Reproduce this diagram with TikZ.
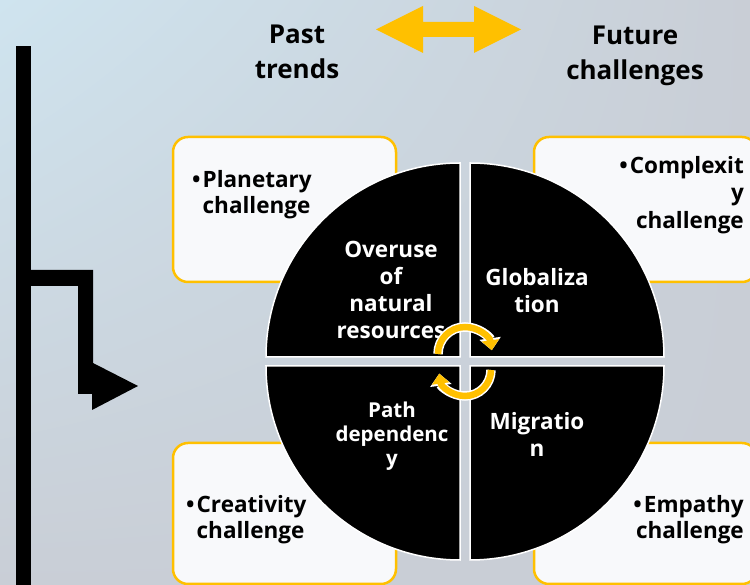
\documentclass[tikz,border=0pt]{standalone}
\usepackage{fontspec}
\setmainfont{Open Sans}
\usepackage{tikz}
\usetikzlibrary{arrows.meta, shadings}

\definecolor{gold}{HTML}{FFC000}
\definecolor{boxfill}{HTML}{F8F9FB}
\definecolor{bgblue}{HTML}{CFE4EF}
\definecolor{bggrey}{HTML}{C9CED6}

\tikzset{
  box/.style={draw=gold, line width=2.5pt, fill=boxfill, rounded corners=15pt},
  quad/.style={fill=black, draw=white, line width=1.5pt},
  headtext/.style={font=\bfseries\fontsize{26}{35}\selectfont, align=center, inner sep=0pt},
  boxtext/.style={font=\bfseries\fontsize{22.5}{26}\selectfont, inner sep=0pt},
  quadtext/.style={text=white, font=\bfseries\fontsize{22.5}{27}\selectfont, align=center, inner sep=0pt},
  turnbg/.style={draw=white, line width=9.5pt, -{Triangle[length=12pt,width=21pt]}},
  turnfg/.style={draw=gold, line width=6.5pt, -{Triangle[length=10pt,width=17pt]}}
}

\begin{document}
\begin{tikzpicture}[x=1pt,y=1pt]
        \useasboundingbox (0,0) rectangle (750,585);
        \clip (0,0) rectangle (750,585);

        % Background
        \shade[upper left=bgblue, upper right=bggrey, lower left=bggrey, lower right=bggrey]
            (0,0) rectangle (750,585);

        % Time bar and bent arrow
        \fill (16,0) rectangle (31,539);
        \fill (31,315) -- (93,315) -- (93,222) -- (138,199) -- (92,175) -- (92,191)
            -- (78,191) -- (78,299) -- (31,299) -- cycle;

        % Double arrow between past and future
        \fill[gold] (376,555.5) -- (423,579) -- (423,563) -- (474,563) -- (474,579)
            -- (521,555.5) -- (474,532) -- (474,548) -- (423,548) -- (423,532) -- cycle;

        % Headers
        \node[headtext] (past) at (297,533) {Past\\trends};
        \node[headtext] (future) at (635,529) {Future\\challenges};

        % Challenge boxes
        \draw[box] (173,303) rectangle (396,448);
        \draw[box] (534,303) rectangle (757,448);
        \draw[box] (173,1) rectangle (396,142);
        \draw[box] (534,1) rectangle (757,142);

        % Box texts
        \node[boxtext, align=left, anchor=north west] (planet) at (192,415)
            {\textbullet\hspace{2pt}Planetary\\\phantom{\textbullet\hspace{2pt}}challenge};
        \node[boxtext, font=\bfseries\fontsize{22.5}{27.5}\selectfont, align=right, anchor=north east] (complex) at (744,429)
            {\textbullet\hspace{2pt}Complexit\\y\\challenge};
        \node[boxtext, align=left, anchor=north west] (creative) at (186,90)
            {\textbullet\hspace{2pt}Creativity\\\phantom{\textbullet\hspace{2pt}}challenge};
        \node[boxtext, align=right, anchor=north east] (empathy) at (744,90)
            {\textbullet\hspace{2pt}Empathy\\challenge};

        % Quadrants of the circle
        \draw[quad] (460,228) -- (266,228) arc[start angle=180, end angle=90, radius=194pt] -- cycle;
        \draw[quad] (470,228) -- (470,422) arc[start angle=90, end angle=0, radius=194pt] -- cycle;
        \draw[quad] (460,219) -- (266,219) arc[start angle=180, end angle=270, radius=194pt] -- cycle;
        \draw[quad] (470,219) -- (664,219) arc[start angle=0, end angle=-90, radius=194pt] -- cycle;

        % Quadrant texts
        \node[quadtext] (overuse) at (391,295.5) {Overuse\\of\\natural\\resources};
        \node[quadtext] (global) at (537,294.5) {Globaliza\\tion};
        \node[quadtext, font=\bfseries\fontsize{20.5}{24}\selectfont] (pathdep) at (392,149) {Path\\dependenc\\y};
        \node[quadtext] (migration) at (537,151) {Migratio\\n};

        % Turning arrows
        \draw[turnbg] (438,231) arc[start angle=180, end angle=8, radius=27pt];
        \draw[turnfg] (438,231) arc[start angle=180, end angle=8, radius=27pt];
        \draw[turnbg] (491,215) arc[start angle=0, end angle=-172, radius=26pt];
        \draw[turnfg] (491,215) arc[start angle=0, end angle=-172, radius=26pt];

    \end{tikzpicture}
\end{document}
